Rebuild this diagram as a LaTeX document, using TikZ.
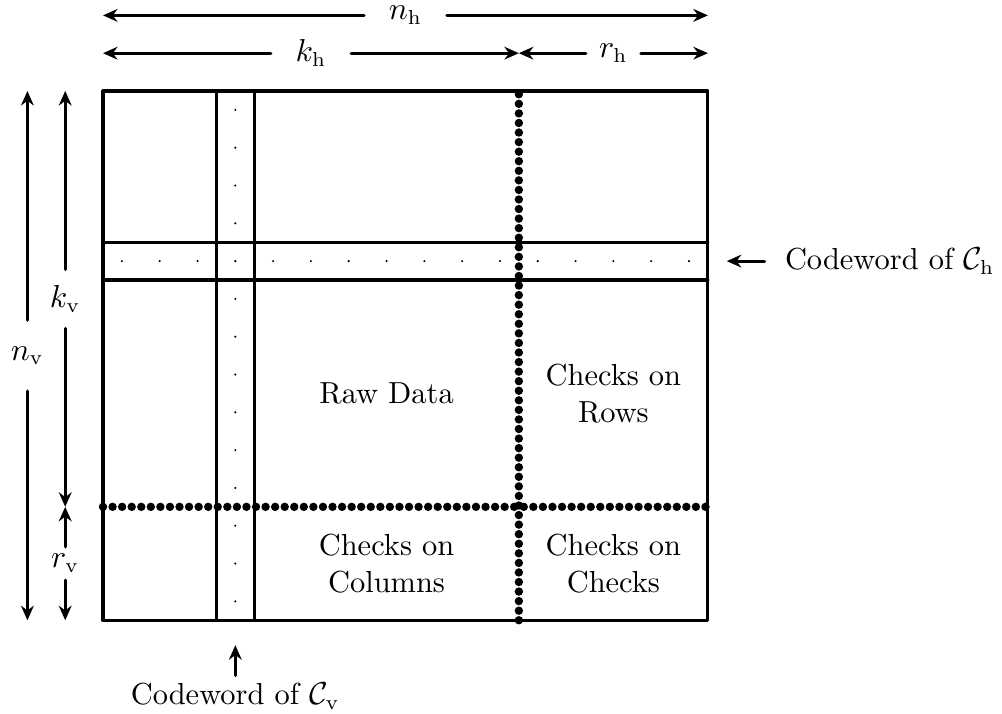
\documentclass[tikz,border=0pt]{standalone}
\usetikzlibrary{positioning,arrows.meta}
\begin{document}
\begin{tikzpicture}[x=0.4585cm, y=0.4585cm, font=\fontsize{10.5}{12.6}\selectfont, line join=round, line cap=round, >={Stealth[length=5pt,width=4.4pt]}, line width=1.1pt]
		\tikzset{bigdots/.style={line width=2.9pt, dash pattern=on 0pt off 3.3pt},
			hgap/.style={inner xsep=#1, inner ysep=1pt},
			vgap/.style={inner ysep=#1, inner xsep=1pt}}
		\useasboundingbox (-2.725,-2.46) rectangle (23.78,16.407);
		% ends of the arrows
		\coordinate (nhl) at (0,16); \coordinate (nhr) at (16,16);
		\coordinate (khl) at (0,15); \coordinate (khr) at (11,15); \coordinate (rhr) at (16,15);
		\coordinate (nvt) at (-2,14); \coordinate (nvb) at (-2,0);
		\coordinate (kvt) at (-1,14); \coordinate (kvb) at (-1,3); \coordinate (rvb) at (-1,0);
		\coordinate (cwhtip) at (16.5,9.5); \coordinate (cwvtip) at (3.5,-0.66);
		% the array
		\draw (0,0) rectangle (16,14);
		\draw (3,0)--(3,14) (4,0)--(4,14) (0,9)--(16,9) (0,10)--(16,10);
		\draw[bigdots] (11,0)--(11,14) (0,3)--(16,3);
		\foreach \i in {0,...,15} \fill (\i+0.5,9.5) circle (0.4pt);
		\foreach \j in {0,...,13} \fill (3.5,\j+0.5) circle (0.4pt);
		\node (raw) at (7.5,6) {Raw Data};
		\node[align=center] (rows) at (13.5,6) {Checks on\\Rows};
		\node[align=center] (cols) at (7.5,1.5) {Checks on\\Columns};
		\node[align=center] (chks) at (13.5,1.5) {Checks on\\Checks};
		% lengths
		\node[hgap=8pt] (nh) at (8,16) {$n_{\mathrm{h}}$};
		\node[hgap=8pt] (kh) at (5.5,15) {$k_{\mathrm{h}}$};
		\node[hgap=4pt] (rh) at (13.5,15) {$r_{\mathrm{h}}$};
		\node[vgap=8.5pt] (nv) at (-2,7) {$n_{\mathrm{v}}$};
		\node[vgap=5pt] (kv) at (-1,8.5) {$k_{\mathrm{v}}$};
		\node[vgap=2pt] (rv) at (-1,1.5) {$r_{\mathrm{v}}$};
		\draw[->] (nh)--(nhl); \draw[->] (nh)--(nhr);
		\draw[->] (kh)--(khl); \draw[->] (kh)--(khr);
		\draw[->] (rh)--(khr); \draw[->] (rh)--(rhr);
		\draw[->] (nv)--(nvt); \draw[->] (nv)--(nvb);
		\draw[->] (kv)--(kvt); \draw[->] (kv)--(kvb);
		\draw[->] (rv)--(kvb); \draw[->] (rv)--(rvb);
		% codewords
		\node[right, hgap=6.5pt] (cwh) at (17.5,9.5) {Codeword of $\mathcal{C}_{\mathrm{h}}$};
		\node[below, vgap=2pt] (cwv) at (3.5,-1.46) {Codeword of $\mathcal{C}_{\mathrm{v}}$};
		\draw[->] (cwh)--(cwhtip);
		\draw[->] (cwv)--(cwvtip);
	\end{tikzpicture}
\end{document}
